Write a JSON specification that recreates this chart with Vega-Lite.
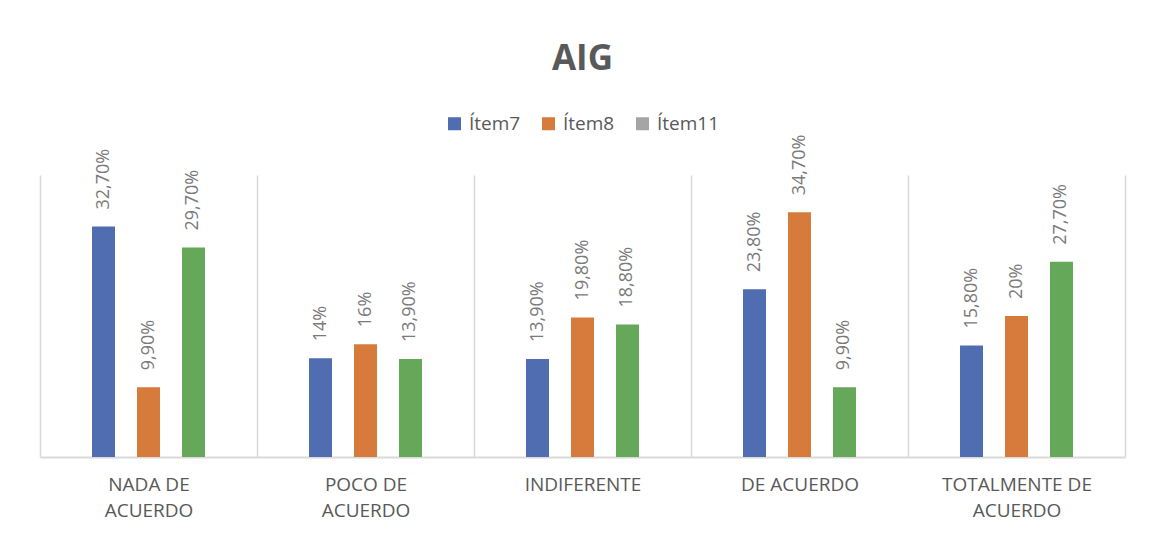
{
  "$schema": "https://vega.github.io/schema/vega-lite/v6.json",
  "autosize": "none",
  "width": 1085,
  "height": 282,
  "padding": {"left": 40, "top": 175, "right": 28, "bottom": 77},
  "background": "white",
  "title": {"text": "AIG", "fontSize": 35, "fontWeight": "bold", "color": "#595959", "font": "Open Sans", "anchor": "middle", "offset": 37},
  "data": {"values": [
    {"cat": "NADA DE ACUERDO", "item": "Ítem7", "v": 32.7, "lab": "32,70%"},
    {"cat": "NADA DE ACUERDO", "item": "Ítem8", "v": 9.9, "lab": "9,90%"},
    {"cat": "NADA DE ACUERDO", "item": "Ítem11", "v": 29.7, "lab": "29,70%"},
    {"cat": "POCO DE ACUERDO", "item": "Ítem7", "v": 14, "lab": "14%"},
    {"cat": "POCO DE ACUERDO", "item": "Ítem8", "v": 16, "lab": "16%"},
    {"cat": "POCO DE ACUERDO", "item": "Ítem11", "v": 13.9, "lab": "13,90%"},
    {"cat": "INDIFERENTE", "item": "Ítem7", "v": 13.9, "lab": "13,90%"},
    {"cat": "INDIFERENTE", "item": "Ítem8", "v": 19.8, "lab": "19,80%"},
    {"cat": "INDIFERENTE", "item": "Ítem11", "v": 18.8, "lab": "18,80%"},
    {"cat": "DE ACUERDO", "item": "Ítem7", "v": 23.8, "lab": "23,80%"},
    {"cat": "DE ACUERDO", "item": "Ítem8", "v": 34.7, "lab": "34,70%"},
    {"cat": "DE ACUERDO", "item": "Ítem11", "v": 9.9, "lab": "9,90%"},
    {"cat": "TOTALMENTE DE ACUERDO", "item": "Ítem7", "v": 15.8, "lab": "15,80%"},
    {"cat": "TOTALMENTE DE ACUERDO", "item": "Ítem8", "v": 20, "lab": "20%"},
    {"cat": "TOTALMENTE DE ACUERDO", "item": "Ítem11", "v": 27.7, "lab": "27,70%"}
  ]},
  "encoding": {
    "x": {
      "field": "cat", "type": "nominal", "sort": null, "title": null,
      "scale": {"paddingInner": 0, "paddingOuter": 0},
      "axis": {
        "tickBand": "extent", "grid": true, "gridColor": "#D9D9D9", "gridWidth": 1.5,
        "ticks": false, "domainColor": "#D9D9D9", "domainWidth": 2,
        "labelAngle": 0, "labelFont": "Open Sans", "labelFontSize": 19, "labelColor": "#595959",
        "labelPadding": 27, "labelLineHeight": 26, "labelBaseline": "middle",
        "labelExpr": "datum.value == 'NADA DE ACUERDO' ? ['NADA DE', 'ACUERDO'] : datum.value == 'POCO DE ACUERDO' ? ['POCO DE', 'ACUERDO'] : datum.value == 'TOTALMENTE DE ACUERDO' ? ['TOTALMENTE DE', 'ACUERDO'] : datum.value"
      }
    },
    "xOffset": {
      "field": "item", "type": "nominal",
      "scale": {"domain": [" ", "Ítem7", "Ítem8", "Ítem11", "  "], "paddingInner": 0.489, "paddingOuter": 0.156}
    },
    "y": {"field": "v", "type": "quantitative", "scale": {"domain": [0, 40]}, "axis": null}
  },
  "layer": [
    {
      "mark": {"type": "bar", "opacity": 0},
      "encoding": {
        "color": {
          "field": "item", "type": "nominal",
          "scale": {"domain": ["Ítem7", "Ítem8", "Ítem11"], "range": ["#4F6DB0", "#D67B3B", "#A5A5A5"]},
          "legend": {
            "title": null, "orient": "none", "legendX": 405, "legendY": -61, "direction": "horizontal",
            "symbolType": "square", "symbolSize": 169, "symbolOpacity": 1, "symbolStrokeWidth": 0,
            "labelFont": "Open Sans", "labelFontSize": 19, "labelColor": "#595959",
            "columnPadding": 18, "labelOffset": 5
          }
        }
      }
    },
    {
      "mark": {"type": "bar"},
      "encoding": {
        "fill": {
          "field": "item", "type": "nominal",
          "scale": {"domain": ["Ítem7", "Ítem8", "Ítem11"], "range": ["#4F6DB0", "#D67B3B", "#65A85A"]},
          "legend": null
        }
      }
    },
    {
      "mark": {"type": "text", "angle": 270, "align": "left", "baseline": "middle", "dx": 17, "font": "Open Sans", "fontSize": 18, "color": "#7A7A7A"},
      "encoding": {"text": {"field": "lab"}}
    }
  ],
  "config": {"view": {"stroke": null}}
}
